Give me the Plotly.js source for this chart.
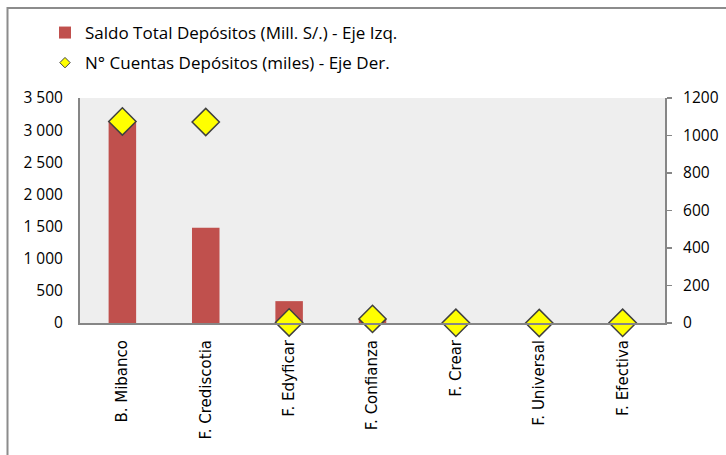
<!DOCTYPE html>
<html><head><meta charset="utf-8">
<script src="https://cdn.plot.ly/plotly-3.0.1.min.js"></script>
<style>html,body{margin:0;padding:0;background:#fff;}#chart{width:726px;height:455px;}</style>
</head><body><div id="chart"></div>
<script>
const categories = ["B. Mibanco","F. Crediscotia","F. Edyficar","F. Confianza","F. Crear","F. Universal","F. Efectiva"];
const saldoDepositos = [3125, 1480, 340, 55, 2, 1, 1];
const cuentasDepositos = [1075, 1072, 3, 22, 1, 0, 1];
const seriesNames = ["Saldo Total Depósitos (Mill. S/.) - Eje Izq.", "N° Cuentas Depósitos (miles) - Eje Der."];

const L = 80, R = 61, T = 98, B = 132, W = 726, H = 455;
const pw = W - L - R, ph = H - T - B;
const px = v => (v - L) / pw;
const py = v => (H - B - v) / ph;

const traces = [
  {type:'bar', x:categories, y:saldoDepositos, name:seriesNames[0], width:0.33,
   marker:{color:'#C0504D', line:{color:'#C0504D', width:0}}, yaxis:'y', legendgroup:'a', showlegend:true},
  {type:'scatter', mode:'markers', x:categories, y:cuentasDepositos, name:seriesNames[1], yaxis:'y2',
   cliponaxis:false, showlegend:false,
   marker:{symbol:'diamond', size:21, color:'#FFFF00', line:{color:'#404040', width:1.5}}},
  {type:'scatter', mode:'markers', x:[null], y:[null], name:seriesNames[1], yaxis:'y2', legendgroup:'b', showlegend:true,
   marker:{symbol:'diamond', size:8, color:'#FFFF00', line:{color:'#404040', width:1}}}
];

const layout = {
  width:W, height:H,
  margin:{l:L, r:R, t:T, b:B, pad:0},
  paper_bgcolor:'#ffffff', plot_bgcolor:'#EEEEEE',
  separators:', ',
  font:{family:'Open Sans, sans-serif', size:15, color:'#000'},
  showlegend:true,
  legend:{x:px(45), y:py(15), xanchor:'left', yanchor:'top', bgcolor:'rgba(0,0,0,0)',
          font:{family:'Open Sans, sans-serif', size:17, color:'#000'}, traceorder:'grouped', tracegroupgap:5,
          itemwidth:30},
  bargap:0.67,
  xaxis:{type:'category', showgrid:false, showline:true, linecolor:'#868686', linewidth:2,
         ticks:'', tickangle:-90, tickfont:{family:'DejaVu Sans, sans-serif', size:15, color:'#000'},
         ticklabelstandoff:9, zeroline:false, fixedrange:true},
  yaxis:{range:[0,3500], dtick:500, tickformat:',d', showgrid:false, showline:true, linecolor:'#868686', linewidth:2,
         ticks:'', zeroline:false, tickfont:{family:'Open Sans, sans-serif', size:15.5, color:'#000'}, ticklabelstandoff:12},
  yaxis2:{range:[0,1200], dtick:200, overlaying:'y', side:'right', showgrid:false, showline:true,
          linecolor:'#868686', linewidth:2, ticks:'outside', ticklen:5, tickcolor:'#868686', tickwidth:1.5,
          zeroline:false, tickfont:{family:'Open Sans, sans-serif', size:15.5, color:'#000'}, ticklabelstandoff:8},
  shapes:[
    {type:'rect', xref:'paper', yref:'paper', x0:px(7.5), x1:px(760), y0:py(500), y1:py(8),
     line:{color:'#8C8C8C', width:2}, fillcolor:'rgba(0,0,0,0)', layer:'below'}
  ]
};

Plotly.newPlot('chart', traces, layout, {staticPlot:true, displayModeBar:false});
</script></body></html>
